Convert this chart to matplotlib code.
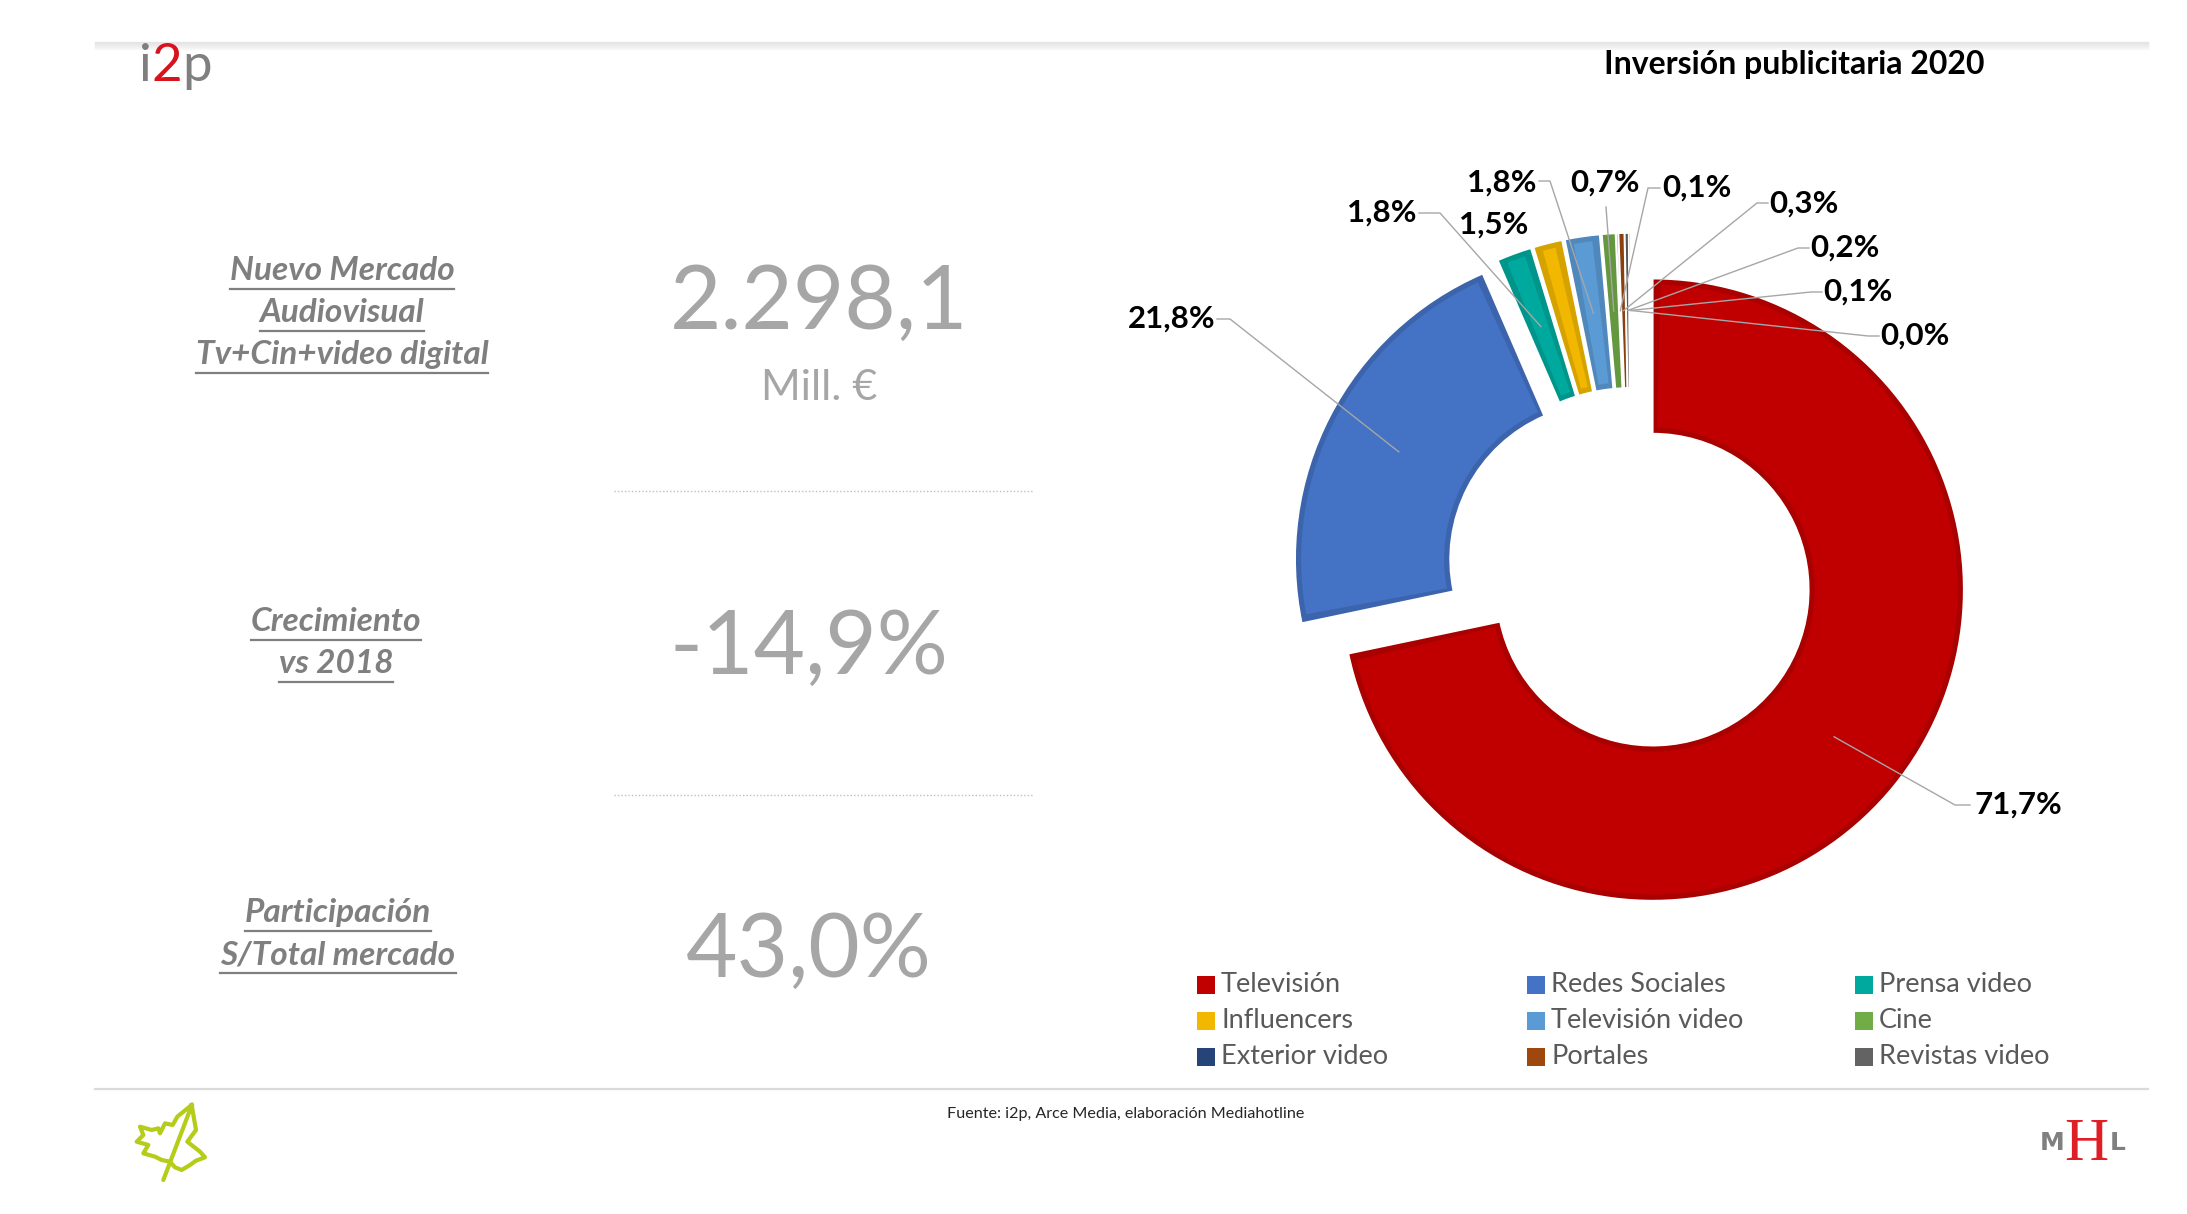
import matplotlib.pyplot as plt
import matplotlib.colors as mcolors
from matplotlib.patches import Rectangle, Wedge
import numpy as np

plt.rcParams['font.family'] = ['Lato', 'DejaVu Sans']

W, H = 2187, 1214

# --- datos ---
segmentos = ['Televisión', 'Redes Sociales', 'Prensa video', 'Influencers',
             'Televisión video', 'Cine', 'Exterior video', 'Portales', 'Revistas video']
# las dos últimas porciones no aparecen en la leyenda original
cuota = [71.7, 21.8, 1.8, 1.5, 1.8, 0.7, 0.1, 0.3, 0.2, 0.1, 0.0]
colores = ['#C00000', '#4472C4', '#00A99D', '#F2B800', '#5B9BD5', '#70AD47',
           '#264478', '#9E480E', '#636363', '#997300', '#255E91']

kpi_titulos = [['Nuevo Mercado', 'Audiovisual', 'Tv+Cin+video digital'],
               ['Crecimiento', 'vs 2018'],
               ['Participación', 'S/Total mercado']]
kpi_valores = ['2.298,1', '-14,9%', '43,0%']
kpi_unidad = 'Mill. €'

titulo = 'Inversión publicitaria 2020'
fuente = 'Fuente: i2p, Arce Media, elaboración Mediahotline'

gris_txt = '#7F7F7F'
gris_num = '#A6A6A6'
guia_col = '#A6A6A6'


def oscuro(c, f=0.88):
    r, g, b = mcolors.to_rgb(c)
    return (r * f, g * f, b * f)


fig = plt.figure(figsize=(W / 100, H / 100), dpi=100)
ax = fig.add_axes([0, 0, 1, 1])

# --- donut (coordenadas en píxeles, y hacia abajo) ---
wedges, _ = ax.pie(cuota, colors=colores, startangle=-90, counterclock=True,
                   radius=311, center=(1631, 572), explode=[28] * len(cuota),
                   wedgeprops=dict(width=155))
ax.set_xlim(0, W)
ax.set_ylim(H, 0)
ax.set_aspect('auto')
ax.axis('off')

# borde oscuro + relleno interior más claro
borde = 6
for w, c in zip(wedges, colores):
    w.set_facecolor(oscuro(c))
    w.set_edgecolor('white')
    w.set_linewidth(1.2)
    rm = w.r - w.width / 2
    d = np.rad2deg(borde / rm)
    if w.theta2 - w.theta1 > 2 * d + 0.3:
        ax.add_patch(Wedge(w.center, w.r - borde, w.theta1 + d, w.theta2 - d,
                           width=w.width - 2 * borde, facecolor=c,
                           edgecolor='none', zorder=3))

# etiquetas de datos
etiq_pos = [(2018, 805), (1172, 319), (1382, 213), (1494, 225), (1502, 183), (1605, 183),
            (1697, 188), (1804, 204), (1845, 248), (1858, 292), (1915, 336)]
guias = [((1970, 805), (1955, 805)), ((1217, 319), (1230, 319)),
         ((1419, 213), (1440, 213)), None, ((1539, 181), (1550, 181)),
         ((1606, 207), (1606, 207)), ((1660, 188), (1648, 188)),
         ((1768, 203), (1757, 203)), ((1809, 248), (1798, 248)),
         ((1822, 292), (1811, 292)), ((1879, 336), (1868, 336))]

for w, v, pos, g in zip(wedges, cuota, etiq_pos, guias):
    ang = np.deg2rad((w.theta1 + w.theta2) / 2)
    rm = w.r - w.width / 2
    anc = (w.center[0] + rm * np.cos(ang), w.center[1] + rm * np.sin(ang))
    if g is not None:
        ax.plot([g[0][0], g[1][0], anc[0]], [g[0][1], g[1][1], anc[1]],
                color=guia_col, lw=1, zorder=4)
    ax.text(pos[0], pos[1], f'{v:.1f}%'.replace('.', ','), fontsize=22.5,
            fontweight='bold', color='black', ha='center', va='center', zorder=5)

# leyenda
col_x = [1197, 1527, 1855]
fila_y = [985, 1021, 1057]
for i, nombre in enumerate(segmentos):
    x = col_x[i % 3]
    y = fila_y[i // 3]
    ax.add_patch(Rectangle((x, y - 9), 18, 18, facecolor=colores[i], edgecolor='none'))
    ax.text(x + 24, y, nombre, fontsize=19.5, color='#595959', ha='left', va='center')

# --- panel izquierdo ---
tit_x = [342, 336, 338]
tit_base = [[280, 322, 364], [631, 673], [922, 964]]
subrayar = []
for lineas, x, ys in zip(kpi_titulos, tit_x, tit_base):
    for txt, y in zip(lineas, ys):
        t = ax.text(x, y, txt, fontsize=24, fontweight='bold', fontstyle='italic',
                    color=gris_txt, ha='center', va='baseline')
        subrayar.append((t, y))

val_base = [329, 674, 977]
val_x = [819, 809, 809]
for v, x, y in zip(kpi_valores, val_x, val_base):
    ax.text(x, y, v, fontsize=64, color=gris_num, ha='center', va='baseline')
ax.text(819, 400, kpi_unidad, fontsize=31, color=gris_num, ha='center', va='baseline')

for y in [491, 795]:
    ax.plot([614, 1032], [y, y], color='#BFBFBF', lw=1, ls=(0, (1, 1.5)))

# --- cabecera y pie ---
ax.text(1985, 74, titulo, fontsize=23, fontweight='bold', color='black',
        ha='right', va='baseline')
for k in range(8):
    ax.plot([95, 2148], [42 + k, 42 + k], color='#D8D8D8', lw=1, alpha=0.6 - k * 0.07)
ax.plot([95, 2148], [1089, 1089], color='#DADADA', lw=1.6)
ax.text(1126, 1114, fuente, fontsize=11.6, color='#262626', ha='center', va='center')

# logo i2p
piezas = [('i', '#7F7F7F'), ('2', '#D7141E'), ('p', '#7F7F7F')]
fig.canvas.draw()
rend = fig.canvas.get_renderer()
x0 = 139
inv = ax.transData.inverted()
for ch, c in piezas:
    t = ax.text(x0, 81, ch, fontsize=38, color=c, ha='left', va='baseline')
    bb = t.get_window_extent(renderer=rend)
    x0 = inv.transform((bb.x1, 0))[0]

# logo MHL
ax.text(2052, 1150, 'M', fontsize=18, fontweight='black', color='#808080',
        ha='center', va='baseline', family=['DejaVu Sans'])
ax.text(2086, 1160, 'H', fontsize=44, color='#E01E26', ha='center', va='baseline',
        family=['Liberation Serif', 'DejaVu Serif'])
ax.text(2118, 1150, 'L', fontsize=18, fontweight='black', color='#808080',
        ha='center', va='baseline', family=['DejaVu Sans'])

# hoja
hoja = np.array([(305, 75), (318, 150), (292, 185), (330, 215), (345, 232), (318, 242),
                 (300, 255), (275, 270), (255, 262), (240, 245), (215, 240), (195, 230),
                 (160, 220), (175, 195), (140, 185), (160, 165), (150, 140), (185, 150),
                 (205, 145), (210, 160), (225, 130), (248, 135), (262, 110), (305, 75)])
ax.plot(90 + hoja[:, 0] / 3, 1080 + hoja[:, 1] / 3, color='#B5CC18', lw=3,
        solid_joinstyle='round')
ax.plot([90 + 303 / 3, 90 + 220 / 3], [1080 + 82 / 3, 1080 + 300 / 3],
        color='#B5CC18', lw=3, solid_capstyle='round')

# subrayados
fig.canvas.draw()
for t, y in subrayar:
    bb = t.get_window_extent(renderer=rend)
    xa = inv.transform((bb.x0, 0))[0]
    xb = inv.transform((bb.x1, 0))[0]
    ax.plot([xa, xb], [y + 9, y + 9], color=gris_txt, lw=1.6)

fig.savefig('out.png', dpi=100, facecolor='white')
